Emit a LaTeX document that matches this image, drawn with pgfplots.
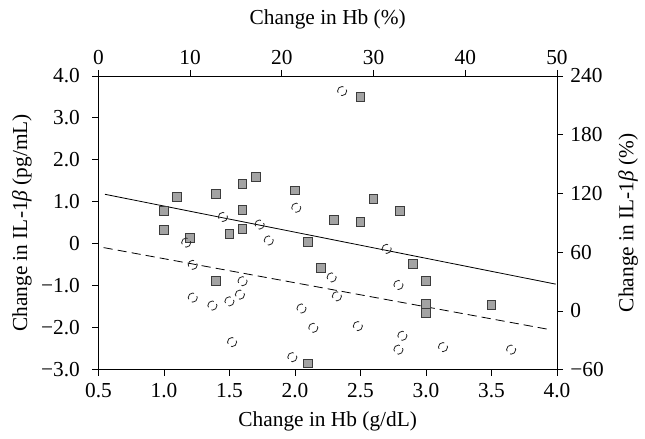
\documentclass[border=0pt]{standalone}
\usepackage{fontspec}
\setmainfont{Liberation Serif}
\usepackage{pgfplots}
\pgfplotsset{compat=1.18}
\definecolor{sqfill}{HTML}{A3A3A3}
\definecolor{sqedge}{HTML}{3C3C3C}
\begin{document}
\fontsize{21}{25}\selectfont
\begin{tikzpicture}
\pgfplotsset{every axis/.append style={
    width=451pt, height=289pt, scale only axis,
    tick align=outside, major tick length=6pt,
    tick style={black, line width=0.8pt},
    axis line style={black, line width=0.8pt},
    /pgf/number format/assume math mode=true,
    tick label style={font=\fontsize{21}{25}\selectfont},
    label style={font=\fontsize{21}{25}\selectfont},
    xlabel near ticks, ylabel near ticks,
}}
% main axes: g/dL and pg/mL
\begin{axis}[
    xmin=0.5, xmax=4, ymin=-3, ymax=4,
    xtick={0.5,1,1.5,2,2.5,3,3.5,4},
    xticklabels={0.5,1.0,1.5,2.0,2.5,3.0,3.5,4.0},
    ytick={-3,-2,-1,0,1,2,3,4},
    yticklabels={−3.0,−2.0,−1.0,0,1.0,2.0,3.0,4.0},
    yticklabel style={xshift=-5pt},
    xtick pos=left, ytick pos=left,
    xlabel={Change in Hb (g/dL)},
    ylabel={Change in IL-1\textit{β} (pg/mL)},
    ylabel style={yshift=-5pt},
]
% regression lines
\addplot[black, line width=0.8pt] coordinates {(0.55,1.18) (3.99,-0.96)};
\addplot[black, line width=0.8pt, dash pattern=on 9pt off 5pt] coordinates {(0.54,-0.09) (3.94,-2.04)};
% squares
\addplot[only marks, mark=square*, mark size=4.3pt,
    mark options={fill=sqfill, draw=sqedge, line width=1pt}] coordinates {
    (1.0,0.78) (1.0,0.33) (1.1,1.12) (1.2,0.14) (1.4,1.18) (1.4,-0.89)
    (1.5,0.23) (1.6,1.42) (1.6,0.80) (1.6,0.35) (1.7,1.59) (2.0,1.27)
    (2.1,0.05) (2.1,-2.85) (2.2,-0.58) (2.3,0.56) (2.5,0.52) (2.5,3.50)
    (2.6,1.06) (2.8,0.79) (2.9,-0.48) (3.0,-0.88) (3.0,-1.44) (3.0,-1.64)
    (3.5,-1.45)
};
% open circles
\addplot[only marks, mark=o, mark size=4.5pt,
    mark options={draw=black!85, line width=0.8pt,
      dash pattern=on 1.5pt off 4pt on 10.1pt off 4pt on 8.7pt off 0pt}] coordinates {
    (1.17,0.03) (1.22,-0.50) (1.22,-1.28) (1.37,-1.47) (1.45,0.64) (1.50,-1.37)
    (1.52,-2.34) (1.58,-1.21) (1.60,-0.89) (1.73,0.46) (1.80,0.08) (1.98,-2.70)
    (2.01,0.86) (2.05,-1.54) (2.14,-2.00) (2.28,-0.80) (2.32,-1.25) (2.36,3.64)
    (2.48,-1.96) (2.70,-0.12) (2.79,-0.98) (2.79,-2.52) (2.82,-2.19) (3.13,-2.46)
    (3.65,-2.52)
};
\end{axis}
% secondary axes: percentages
\begin{axis}[
    xmin=0, xmax=50, ymin=-60, ymax=240,
    xtick={0,10,20,30,40,50},
    ytick={-60,0,60,120,180,240},
    yticklabels={−60,0,60,120,180,240},
    xtick pos=right, ytick pos=right,
    xticklabel pos=right, yticklabel pos=right,
    xticklabel style={yshift=-2pt},
    xlabel={Change in Hb (\%)},
    xlabel style={yshift=6pt},
    ylabel={Change in IL-1\textit{β} (\%)},
]
\end{axis}
% a little white margin, as in the reference
\path (current bounding box.north west) ++(-5pt,3pt);
\end{tikzpicture}
\end{document}
